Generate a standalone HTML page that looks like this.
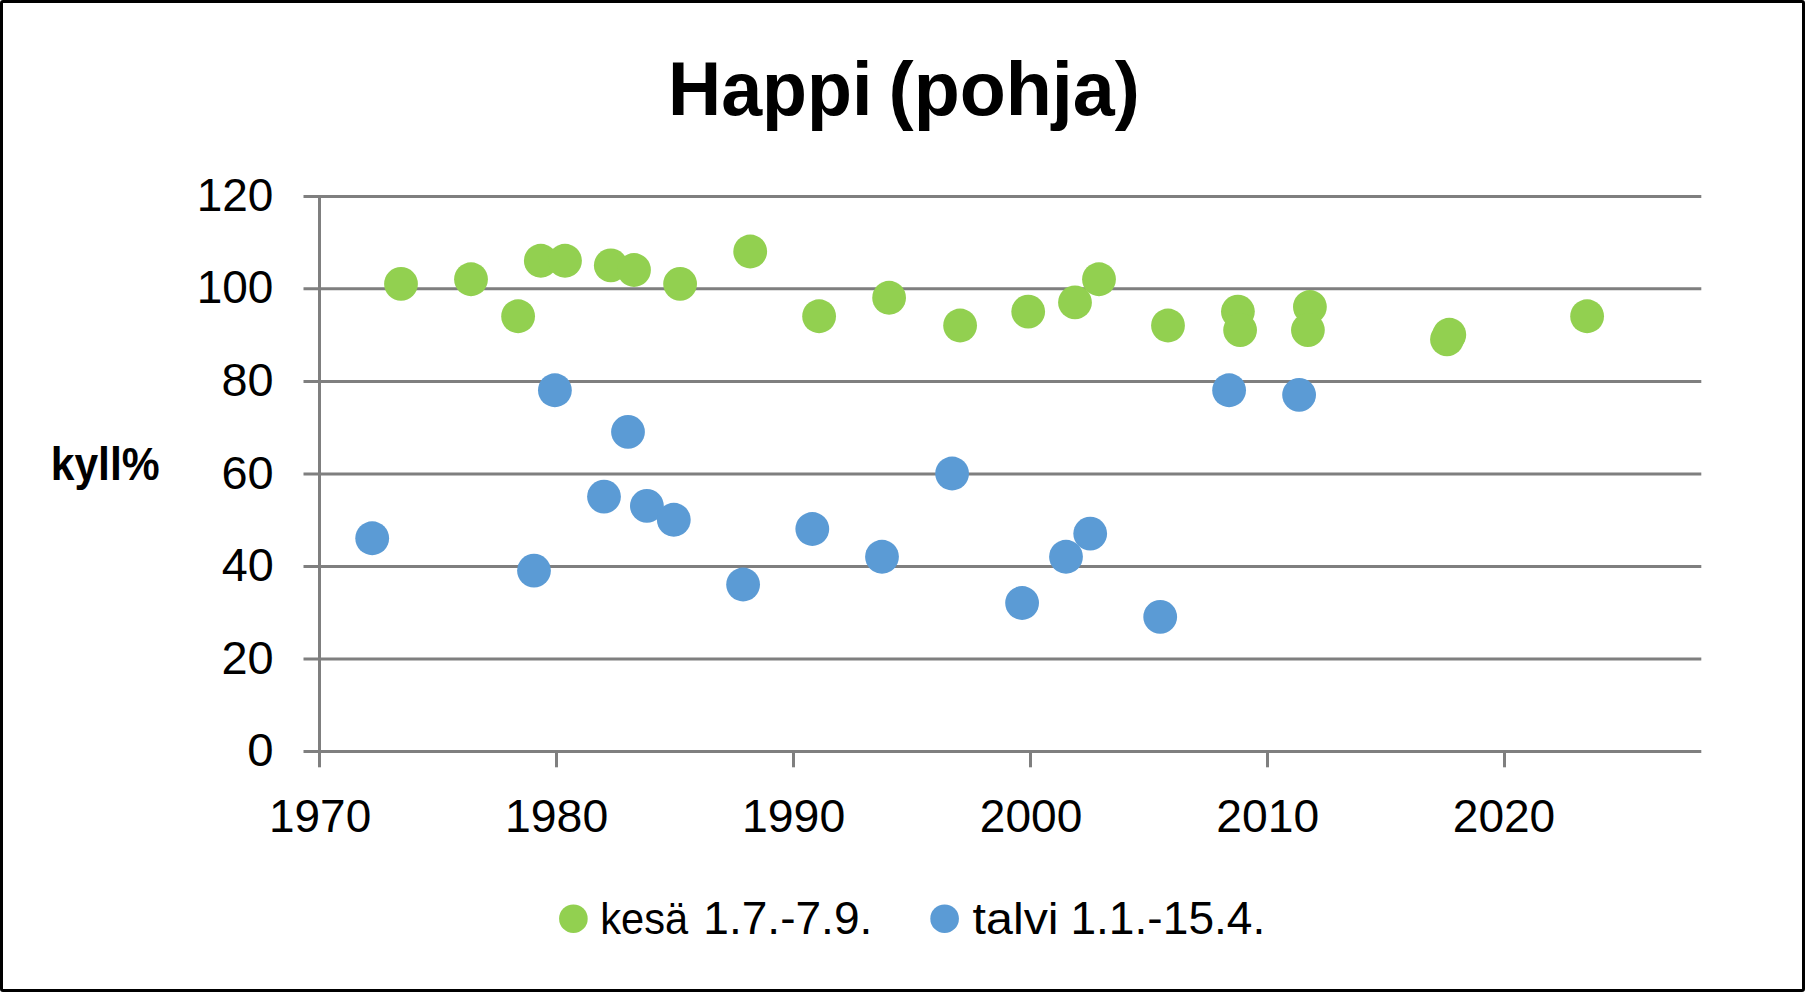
<!DOCTYPE html>
<html lang="fi">
<head>
<meta charset="utf-8">
<title>Happi (pohja)</title>
<style>
html,body{margin:0;padding:0;background:#fff;}
body{width:1805px;height:992px;overflow:hidden;position:relative;}
svg{position:absolute;left:0;top:0;display:block;}
text{font-family:"Liberation Sans",sans-serif;fill:#000;}
.b{font-weight:bold;}
</style>
</head>
<body>
<svg width="1805" height="992" viewBox="0 0 1805 992">
<rect x="0" y="0" width="1805" height="992" fill="#ffffff"/>
<rect x="1.5" y="1.5" width="1802" height="989" rx="1.5" fill="none" stroke="#000" stroke-width="3"/>

<g fill="#7f7f7f">
<rect x="303.5" y="195.00" width="1397.80" height="3"/>
<rect x="303.5" y="287.25" width="1397.80" height="3"/>
<rect x="303.5" y="380.00" width="1397.80" height="3"/>
<rect x="303.5" y="472.50" width="1397.80" height="3"/>
<rect x="303.5" y="565.00" width="1397.80" height="3"/>
<rect x="303.5" y="657.50" width="1397.80" height="3"/>
<rect x="303.5" y="750.00" width="1397.80" height="3"/>
<rect x="318" y="195" width="3" height="572.3"/>
<rect x="555.00" y="751.5" width="3" height="15.8"/>
<rect x="792.00" y="751.5" width="3" height="15.8"/>
<rect x="1029.00" y="751.5" width="3" height="15.8"/>
<rect x="1266.00" y="751.5" width="3" height="15.8"/>
<rect x="1503.00" y="751.5" width="3" height="15.8"/>
</g>
<g fill="#92D050">
<circle cx="401.0" cy="283.88" r="16.9"/>
<circle cx="471.0" cy="279.25" r="16.9"/>
<circle cx="518.1" cy="316.25" r="16.9"/>
<circle cx="540.8" cy="260.75" r="16.9"/>
<circle cx="565.0" cy="260.75" r="16.9"/>
<circle cx="610.8" cy="265.38" r="16.9"/>
<circle cx="634.0" cy="270.00" r="16.9"/>
<circle cx="680.1" cy="283.88" r="16.9"/>
<circle cx="750.2" cy="251.50" r="16.9"/>
<circle cx="819.1" cy="316.25" r="16.9"/>
<circle cx="889.1" cy="297.75" r="16.9"/>
<circle cx="960.1" cy="325.50" r="16.9"/>
<circle cx="1028.2" cy="311.62" r="16.9"/>
<circle cx="1075.0" cy="302.38" r="16.9"/>
<circle cx="1099.0" cy="279.25" r="16.9"/>
<circle cx="1168.0" cy="325.50" r="16.9"/>
<circle cx="1237.9" cy="311.62" r="16.9"/>
<circle cx="1240.1" cy="330.12" r="16.9"/>
<circle cx="1309.9" cy="307.00" r="16.9"/>
<circle cx="1307.9" cy="330.12" r="16.9"/>
<circle cx="1447.0" cy="339.38" r="16.9"/>
<circle cx="1449.3" cy="334.75" r="16.9"/>
<circle cx="1587.1" cy="316.25" r="16.9"/>
</g>
<g fill="#5B9BD5">
<circle cx="554.9" cy="390.25" r="16.9"/>
<circle cx="628.0" cy="431.88" r="16.9"/>
<circle cx="372.2" cy="538.25" r="16.9"/>
<circle cx="534.0" cy="570.62" r="16.9"/>
<circle cx="604.0" cy="496.62" r="16.9"/>
<circle cx="646.9" cy="505.88" r="16.9"/>
<circle cx="673.8" cy="519.75" r="16.9"/>
<circle cx="743.1" cy="584.50" r="16.9"/>
<circle cx="952.1" cy="473.50" r="16.9"/>
<circle cx="812.3" cy="529.00" r="16.9"/>
<circle cx="882.0" cy="556.75" r="16.9"/>
<circle cx="1022.1" cy="603.00" r="16.9"/>
<circle cx="1066.0" cy="556.75" r="16.9"/>
<circle cx="1090.2" cy="533.62" r="16.9"/>
<circle cx="1160.2" cy="616.88" r="16.9"/>
<circle cx="1229.1" cy="390.25" r="16.9"/>
<circle cx="1299.1" cy="394.88" r="16.9"/>
</g>
<circle cx="573.4" cy="918.7" r="14.3" fill="#92D050"/>
<circle cx="944.6" cy="918.7" r="14.3" fill="#5B9BD5"/>
<text id="title" class="b" y="114.90"><tspan x="668.03" font-size="75.50" textLength="204.37" lengthAdjust="spacingAndGlyphs">Happi</tspan> <tspan x="888.53" font-size="75.50" textLength="251.31" lengthAdjust="spacingAndGlyphs">(pohja)</tspan></text>
<text id="ylab" class="b" font-size="46.00" transform="translate(50.71,480.30) scale(0.9261,1)">kyll%</text>
<text id="y120" font-size="45.50" transform="translate(196.72,211.15) scale(1.0108,1)">120</text>
<text id="y100" font-size="45.50" transform="translate(196.72,303.15) scale(1.0108,1)">100</text>
<text id="y80" font-size="45.50" transform="translate(221.54,396.15) scale(1.0292,1)">80</text>
<text id="y60" font-size="45.50" transform="translate(221.42,488.65) scale(1.0317,1)">60</text>
<text id="y40" font-size="45.50" transform="translate(221.66,581.15) scale(1.0287,1)">40</text>
<text id="y20" font-size="45.50" transform="translate(221.52,673.65) scale(1.0316,1)">20</text>
<text id="y0" font-size="45.50" transform="translate(247.33,766.15) scale(1.0398,1)">0</text>
<text id="x1970" font-size="45.50" transform="translate(269.02,831.50) scale(1.0096,1)">1970</text>
<text id="x1980" font-size="45.50" transform="translate(504.97,831.50) scale(1.0206,1)">1980</text>
<text id="x1990" font-size="45.50" transform="translate(741.97,831.50) scale(1.0206,1)">1990</text>
<text id="x2000" font-size="45.50" transform="translate(979.87,831.50) scale(1.0121,1)">2000</text>
<text id="x2010" font-size="45.50" transform="translate(1216.27,831.50) scale(1.0162,1)">2010</text>
<text id="x2020" font-size="45.50" transform="translate(1452.78,831.50) scale(1.0121,1)">2020</text>
<text id="leg1" y="933.80"><tspan x="600.33" font-size="45.00" textLength="87.83" lengthAdjust="spacingAndGlyphs">kesä</tspan> <tspan x="703.30" font-size="45.50" textLength="169.04" lengthAdjust="spacingAndGlyphs">1.7.-7.9.</tspan></text>
<text id="leg2" y="933.80"><tspan x="972.54" font-size="45.00" textLength="86.07" lengthAdjust="spacingAndGlyphs">talvi</tspan> <tspan x="1070.40" font-size="45.50" textLength="194.96" lengthAdjust="spacingAndGlyphs">1.1.-15.4.</tspan></text>
</svg>
</body>
</html>
